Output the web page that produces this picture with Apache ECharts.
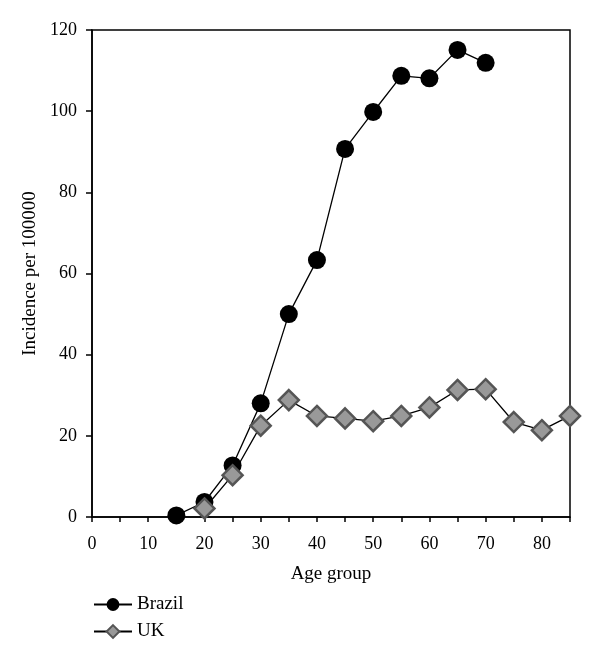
<!DOCTYPE html>
<html>
<head>
<meta charset="utf-8">
<script src="https://cdn.jsdelivr.net/npm/echarts@6/dist/echarts.min.js"></script>
<style>html,body{margin:0;padding:0;background:#fff;}#c{width:600px;height:662px;}</style>
</head>
<body>
<div id="c"></div>
<script>
const ages = [15, 20, 25, 30, 35, 40, 45, 50, 55, 60, 65, 70, 75, 80, 85];
const brazilAges = [15, 20, 25, 30, 35, 40, 45, 50, 55, 60, 65, 70];
const brazilValues = [0.4, 3.7, 12.7, 28, 50, 63.3, 90.7, 99.8, 108.7, 108.1, 115.1, 111.9];
const ukAges = [20, 25, 30, 35, 40, 45, 50, 55, 60, 65, 70, 75, 80, 85];
const ukValues = [2.1, 10.3, 22.5, 28.8, 24.9, 24.3, 23.6, 24.9, 27, 31.3, 31.5, 23.4, 21.4, 24.9];
const seriesNames = ['Brazil', 'UK'];
const xLabel = 'Age group';
const yLabel = 'Incidence per 100000';

const font = 'Liberation Serif';
const chart = echarts.init(document.getElementById('c'));
chart.setOption({
  animation: false,
  backgroundColor: '#fff',
  textStyle: { fontFamily: font },
  grid: { left: 92, right: 30, top: 30, bottom: 145, show: true, borderColor: '#000', borderWidth: 1.5, backgroundColor: 'transparent' },
  legend: {
    orient: 'vertical', left: 88, top: 590, itemWidth: 38, itemHeight: 16, itemGap: 8,
    textStyle: { fontFamily: font, fontSize: 19, color: '#000' },
    data: seriesNames
  },
  xAxis: {
    type: 'value', min: 0, max: 85, interval: 5,
    name: xLabel, nameLocation: 'middle', nameGap: 48,
    nameTextStyle: { fontFamily: font, fontSize: 19, color: '#000' },
    axisLine: { lineStyle: { color: '#000', width: 1.5 } },
    axisTick: { show: true, inside: false, length: 5, lineStyle: { color: '#000', width: 1.5 } },
    axisLabel: { fontFamily: font, fontSize: 18, color: '#000', margin: 18,
      formatter: v => (v % 10 === 0 && v <= 80) ? String(v) : '' },
    splitLine: { show: false }
  },
  yAxis: {
    type: 'value', min: 0, max: 120, interval: 20,
    name: yLabel, nameLocation: 'middle', nameGap: 50, nameRotate: 90,
    nameTextStyle: { fontFamily: font, fontSize: 19, color: '#000' },
    axisLine: { show: true, lineStyle: { color: '#000', width: 1.5 } },
    axisTick: { show: true, inside: false, length: 6, lineStyle: { color: '#000', width: 1.5 } },
    axisLabel: { fontFamily: font, fontSize: 18, color: '#000', margin: 15 },
    splitLine: { show: false }
  },
  series: [
    {
      name: seriesNames[0], type: 'line', clip: false,
      data: brazilAges.map((a, i) => [a, brazilValues[i]]),
      symbol: 'circle', symbolSize: 18,
      lineStyle: { color: '#000', width: 1.3 },
      itemStyle: { color: '#000', borderColor: '#000', borderWidth: 0 },
      z: 3
    },
    {
      name: seriesNames[1], type: 'line', clip: false,
      data: ukAges.map((a, i) => [a, ukValues[i]]),
      symbol: 'diamond', symbolSize: 20,
      lineStyle: { color: '#000', width: 1.3 },
      itemStyle: { color: '#999', borderColor: '#555', borderWidth: 2.5 },
      z: 4
    }
  ]
});
</script>
</body>
</html>
